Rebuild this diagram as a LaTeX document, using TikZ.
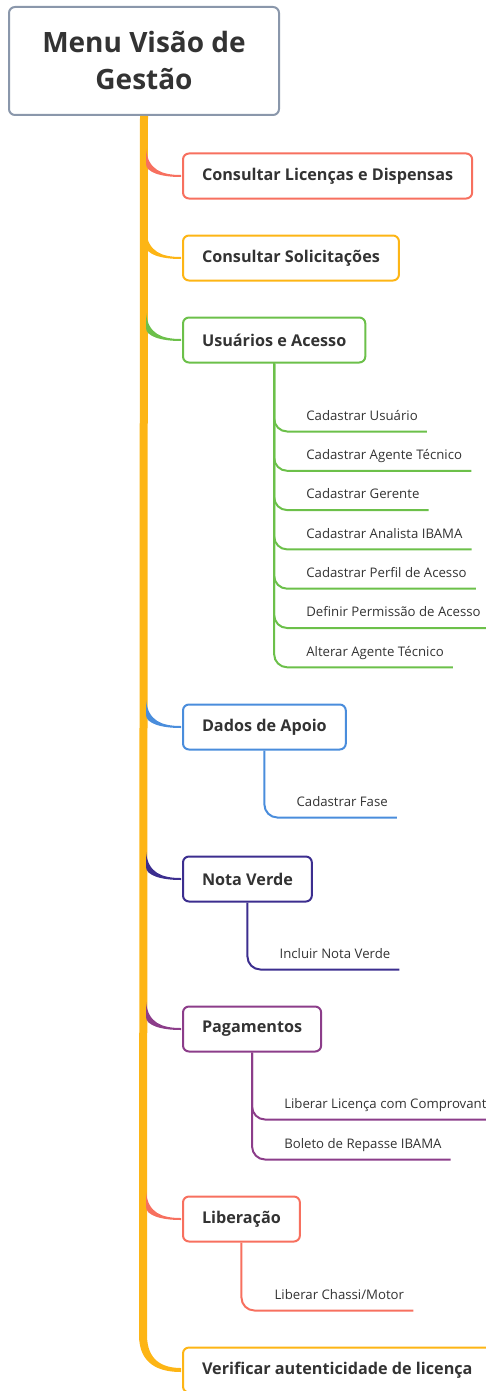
\documentclass[tikz,border=0pt]{standalone}
\usepackage{fontspec}
\setmainfont{Open Sans}
\usetikzlibrary{calc}

\definecolor{rootline}{HTML}{8A97AB}
\definecolor{trunk}{HTML}{FDB515}
\definecolor{coral}{HTML}{F7705F}
\definecolor{amber}{HTML}{FDB515}
\definecolor{leaf}{HTML}{6CC04A}
\definecolor{sky}{HTML}{4A8DDC}
\definecolor{indigo}{HTML}{3C2E8F}
\definecolor{plum}{HTML}{8C3D8A}
\definecolor{ink}{HTML}{333333}

\tikzset{
  topic/.style={draw, line width=2pt, rounded corners=6pt, fill=white, anchor=west,
    inner xsep=19pt, minimum height=45pt, text=ink,
    font=\bfseries\fontsize{16.2}{18}\selectfont},
  sub/.style={anchor=south west, inner xsep=9pt, inner ysep=9pt, text depth=2pt,
    text=ink, font=\fontsize{13.2}{15}\selectfont},
  stem/.style={line width=2pt, rounded corners=13pt},
}

\begin{document}
\begin{tikzpicture}[x=1pt, y=-1pt]
  \clip (0,0) rectangle (486,1391);

  % central topic and trunk
  \node[draw=rootline, line width=2pt, rounded corners=6pt, minimum width=270pt,
    minimum height=108pt, align=center, text=ink,
    font=\bfseries\fontsize{28}{37}\selectfont] (root) at (144,61) {Menu Visão de\\Gestão};
  \coordinate (end) at (143,1335);
  \draw[trunk, line width=8pt] (root.south) -- (end);

  % main topics
  \node[topic, draw=coral] (lic) at (182,176) {Consultar Licenças e Dispensas};
  \node[topic, draw=amber] (sol) at (182,258) {Consultar Solicitações};
  \node[topic, draw=leaf] (usu) at (182,340) {Usuários e Acesso};
  \node[topic, draw=sky] (dad) at (182,727) {Dados de Apoio};
  \node[topic, draw=indigo] (nota) at (182,879) {Nota Verde};
  \node[topic, draw=plum] (pag) at (182,1029) {Pagamentos};
  \node[topic, draw=coral] (lib) at (182,1219) {Liberação};
  \node[topic, draw=amber] (ver) at (182,1370) {Verificar autenticidade de licença};

  % twigs from the trunk
  \foreach \n/\c in {lic/coral, sol/amber, usu/leaf, dad/sky, nota/indigo, pag/plum, lib/coral}
    \fill[\c] ($(\n.west)+(-36,-27)$) .. controls ($(\n.west)+(-34,-6)$) and ($(\n.west)+(-20,-1)$)
      .. ($(\n.west)+(-1,-1)$) -- ($(\n.west)+(-1,1)$) .. controls ($(\n.west)+(-22,1)$)
      and ($(\n.west)+(-36,-4)$) .. ($(\n.west)+(-36,-12)$) -- cycle;
  \fill[trunk] ($(end)+(-4,0)$) .. controls ($(end)+(-4,30)$) and ($(ver.west)+(-22,2)$)
    .. ($(ver.west)+(-1,2)$) -- ($(ver.west)+(-1,-2)$) .. controls ($(ver.west)+(-20,-2)$)
    and ($(end)+(4,25)$) .. ($(end)+(4,0)$) -- cycle;

  % subtopics
  \foreach \t [count=\i from 0] in {Cadastrar Usuário, Cadastrar Agente Técnico,
      Cadastrar Gerente, Cadastrar Analista IBAMA, Cadastrar Perfil de Acesso,
      Definir Permissão de Acesso, Alterar Agente Técnico} {
    \node[sub] (u\i) at ($(usu.south)+(23,68+39.3*\i)$) {\t};
    \draw[stem, leaf] (usu.south) |- (u\i.south east);
  }

  \node[sub] (d0) at ($(dad.south)+(23,67)$) {Cadastrar Fase};
  \draw[stem, sky] (dad.south) |- (d0.south east);

  \node[sub] (n0) at ($(nota.south)+(23,67)$) {Incluir Nota Verde};
  \draw[stem, indigo] (nota.south) |- (n0.south east);

  \node[sub] (p0) at ($(pag.south)+(23,67)$) {Liberar Licença com Comprovante};
  \node[sub] (p1) at ($(pag.south)+(23,107)$) {Boleto de Repasse IBAMA};
  \draw[stem, plum] (pag.south) |- (p0.south east);
  \draw[stem, plum] (pag.south) |- (p1.south east);

  \node[sub] (l0) at ($(lib.south)+(24,68)$) {Liberar Chassi/Motor};
  \draw[stem, coral] (lib.south) |- (l0.south east);
\end{tikzpicture}
\end{document}
